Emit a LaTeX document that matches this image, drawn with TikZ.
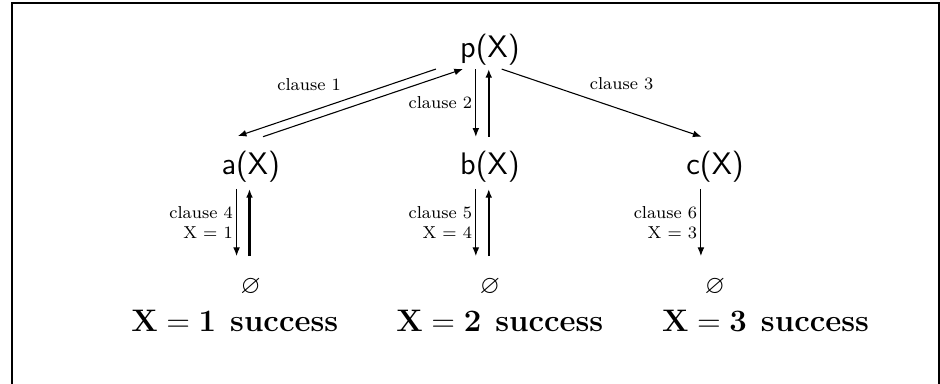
\documentclass[tikz,border=0pt]{standalone}
\usepackage{amsmath,amssymb}
\usepackage{tikz}
\usetikzlibrary{arrows.meta,positioning}

\begin{document}
\begin{tikzpicture}[
  >={Latex[length=1.4mm,width=1.1mm]},
  goal/.style={font=\Large\sffamily, inner sep=1pt},
  leaf/.style={font=\large, inner sep=1pt},
  result/.style={font=\Large, inner sep=1pt},
  call/.style={->, line width=0.5pt},
  back/.style={->, line width=1.1pt},
  lbl/.style={font=\footnotesize, inner sep=1.5pt, align=right},
  on grid
]
  \clip (-7.967,-5.415) rectangle (7.317,0.813);
  \draw[line width=0.8pt] (-7.772,-6) rectangle (7.300,0.764);

  \node[goal] (p) at (0,0) {p(X)};
  \node[goal, below=19mm of p] (b) {b(X)};
  \node[goal, left=38.9mm of b] (a) {a(X)};
  \node[goal, right=36.6mm of b] (c) {c(X)};
  \node[leaf, below=19.5mm of a] (ea) {$\varnothing$};
  \node[leaf, below=19.5mm of b] (eb) {$\varnothing$};
  \node[leaf, below=19.5mm of c] (ec) {$\varnothing$};
  \node[result, below=5.6mm of eb, xshift=1.6mm] (rb) {$\mathbf{X = 2}$\hspace{0.45em}\textbf{success}};
  \node[result, left=43.1mm of rb] (ra) {$\mathbf{X = 1}$\hspace{0.45em}\textbf{success}};
  \node[result, right=43.2mm of rb] (rc) {$\mathbf{X = 3}$\hspace{0.45em}\textbf{success}};

  \draw[call] ([shift={(-8.8mm,-3.1mm)}]p.center) -- node[lbl, pos=0.64, above=2.9mm] {clause 1} ([shift={(-2.1mm,5mm)}]a.center);
  \draw[call] ([shift={(2mm,4.9mm)}]a.center) -- ([shift={(-4.4mm,-3.1mm)}]p.center);
  \draw[call] ([shift={(-2.3mm,-3.1mm)}]p.center) -- node[lbl, left] {clause 2} ([shift={(-2.3mm,4.9mm)}]b.center);
  \draw[back] ([shift={(-0.2mm,4.9mm)}]b.center) -- ([shift={(-0.2mm,-3.1mm)}]p.center);
  \draw[call] ([shift={(1.9mm,-3.1mm)}]p.center) -- node[lbl, pos=0.6, above=2.55mm] {clause 3} ([shift={(-2.2mm,4.9mm)}]c.center);

  \draw[call] ([shift={(-2.3mm,-3.6mm)}]a.center) -- node[lbl, left] {clause 4\\X = 1} ([shift={(-2.3mm,5mm)}]ea.center);
  \draw[back] ([shift={(-0.2mm,5mm)}]ea.center) -- ([shift={(-0.2mm,-3.6mm)}]a.center);
  \draw[call] ([shift={(-2.3mm,-3.6mm)}]b.center) -- node[lbl, left] {clause 5\\X = 4} ([shift={(-2.3mm,5mm)}]eb.center);
  \draw[back] ([shift={(-0.2mm,5mm)}]eb.center) -- ([shift={(-0.2mm,-3.6mm)}]b.center);
  \draw[call] ([shift={(-2.3mm,-3.6mm)}]c.center) -- node[lbl, left] {clause 6\\X = 3} ([shift={(-2.3mm,5mm)}]ec.center);
\end{tikzpicture}
\end{document}
